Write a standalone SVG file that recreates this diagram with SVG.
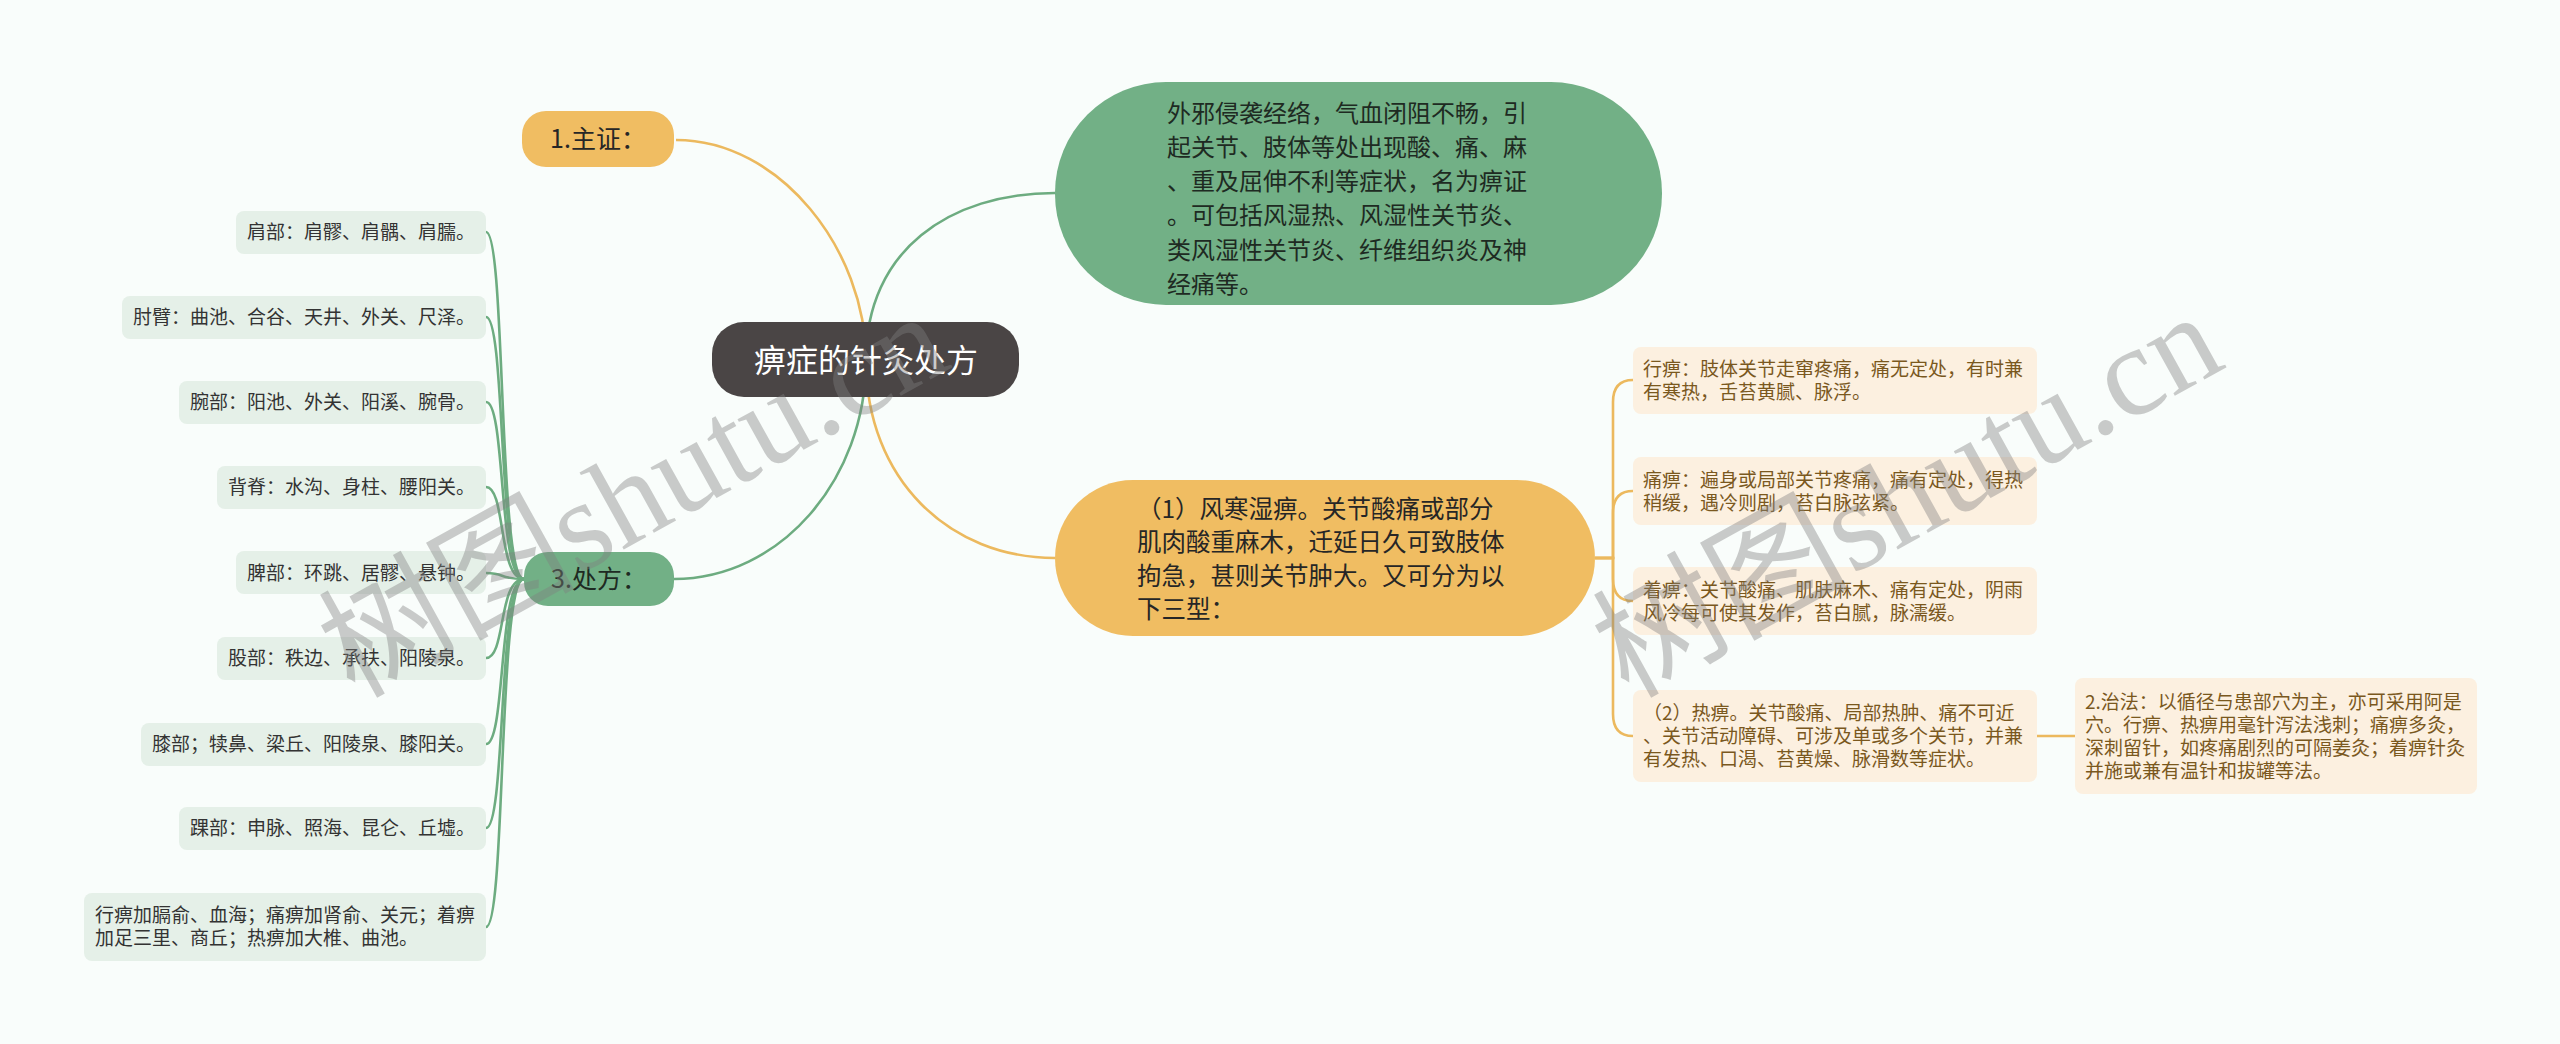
<svg xmlns="http://www.w3.org/2000/svg" width="2560" height="1044" viewBox="0 0 2560 1044">
<style>
.t{font-family:"Noto Sans CJK SC","Noto Sans",sans-serif}
.cg{fill:none;stroke:#6dac80;stroke-width:2.6}
.co{fill:none;stroke:#ecb95e;stroke-width:2.6}
.lf{fill:#e5f0e8}
.lt{font-size:19px;fill:#333}
.rf{fill:#fcf0e0}
.rt{font-size:19px;fill:#7a581e}
.wm{font-size:128px;fill:#808080;opacity:0.4}
</style>
<rect width="2560" height="1044" fill="#f9fdfb"/>
<g id="connectors">
<path class="co" d="M866,360 C866,250 780,140 676,140"/>
<path class="cg" d="M866,360 C866,250 950,193 1055,193"/>
<path class="co" d="M866,360 C866,480 950,558 1055,558"/>
<path class="cg" d="M866,360 C866,480 780,579 674,579"/>
<path class="cg" d="M524,579 C498,579 506,232 486,232"/>
<path class="cg" d="M524,579 C498,579 506,317 486,317"/>
<path class="cg" d="M524,579 C498,579 506,402 486,402"/>
<path class="cg" d="M524,579 C498,579 506,487 486,487"/>
<path class="cg" d="M524,579 C498,579 506,573 486,573"/>
<path class="cg" d="M524,579 C498,579 506,658 486,658"/>
<path class="cg" d="M524,579 C498,579 506,744 486,744"/>
<path class="cg" d="M524,579 C498,579 506,828 486,828"/>
<path class="cg" d="M524,579 C498,579 506,927 486,927"/>
<path class="co" d="M1595,558 H1613 V402 Q1613,380 1633,380"/>
<path class="co" d="M1595,558 H1613 V513 Q1613,491 1633,491"/>
<path class="co" d="M1595,558 H1613 V579 Q1613,601 1633,601"/>
<path class="co" d="M1595,558 H1613 V714 Q1613,736 1633,736"/>
<path class="co" d="M2037,736 H2075"/>
</g>
<g id="root">
<rect x="712" y="322" width="307" height="75" rx="32" fill="#4a4545"/>
<text class="t" x="866" y="372" font-size="32" fill="#fff" text-anchor="middle">痹症的针灸处方</text>
</g>
<g id="n-zhuzheng">
<rect x="522" y="111" width="152" height="56" rx="24" fill="#f0bd62"/>
<text class="t" x="598" y="148" font-size="25" fill="#262626" text-anchor="middle">1.主证：</text>
</g>
<g id="n-desc">
<rect x="1055" y="82" width="607" height="223" rx="111" fill="#72b086"/>
<text class="t" font-size="24" fill="#1e2a22">
<tspan x="1167" y="122">外邪侵袭经络，气血闭阻不畅，引</tspan>
<tspan x="1167" y="156">起关节、肢体等处出现酸、痛、麻</tspan>
<tspan x="1167" y="190">、重及屈伸不利等症状，名为痹证</tspan>
<tspan x="1167" y="224">。可包括风湿热、风湿性关节炎、</tspan>
<tspan x="1167" y="259">类风湿性关节炎、纤维组织炎及神</tspan>
<tspan x="1167" y="293">经痛等。</tspan>
</text>
</g>
<g id="n-type1">
<rect x="1055" y="480" width="540" height="156" rx="78" fill="#f0bd62"/>
<text class="t" font-size="24.5" fill="#262626">
<tspan x="1137" y="518">（1）风寒湿痹。关节酸痛或部分</tspan>
<tspan x="1137" y="551">肌肉酸重麻木，迁延日久可致肢体</tspan>
<tspan x="1137" y="585">拘急，甚则关节肿大。又可分为以</tspan>
<tspan x="1137" y="618">下三型：</tspan>
</text>
</g>
<g id="n-chufang">
<rect x="524" y="552" width="150" height="54" rx="24" fill="#72b086"/>
<text class="t" x="599" y="588" font-size="25" fill="#1e2a22" text-anchor="middle">3.处方：</text>
</g>
<g id="l1"><rect class="lf" x="236" y="211" width="250" height="43" rx="8"/><text class="t lt" x="247" y="239">肩部：肩髎、肩髃、肩臑。</text></g>
<g id="l2"><rect class="lf" x="122" y="296" width="364" height="43" rx="8"/><text class="t lt" x="133" y="324">肘臂：曲池、合谷、天井、外关、尺泽。</text></g>
<g id="l3"><rect class="lf" x="179" y="381" width="307" height="43" rx="8"/><text class="t lt" x="190" y="409">腕部：阳池、外关、阳溪、腕骨。</text></g>
<g id="l4"><rect class="lf" x="217" y="466" width="269" height="43" rx="8"/><text class="t lt" x="228" y="494">背脊：水沟、身柱、腰阳关。</text></g>
<g id="l5"><rect class="lf" x="236" y="551" width="250" height="43" rx="8"/><text class="t lt" x="247" y="580">脾部：环跳、居髎、悬钟。</text></g>
<g id="l6"><rect class="lf" x="217" y="637" width="269" height="43" rx="8"/><text class="t lt" x="228" y="665">股部：秩边、承扶、阳陵泉。</text></g>
<g id="l7"><rect class="lf" x="141" y="723" width="345" height="43" rx="8"/><text class="t lt" x="152" y="751">膝部；犊鼻、梁丘、阳陵泉、膝阳关。</text></g>
<g id="l8"><rect class="lf" x="179" y="807" width="307" height="43" rx="8"/><text class="t lt" x="190" y="835">踝部：申脉、照海、昆仑、丘墟。</text></g>
<g id="l9"><rect class="lf" x="84" y="893" width="402" height="68" rx="8"/><text class="t lt"><tspan x="95" y="922">行痹加膈俞、血海；痛痹加肾俞、关元；着痹</tspan><tspan x="95" y="945">加足三里、商丘；热痹加大椎、曲池。</tspan></text></g>
<g id="r1"><rect class="rf" x="1633" y="347" width="404" height="67" rx="8"/><text class="t rt"><tspan x="1643" y="376">行痹：肢体关节走窜疼痛，痛无定处，有时兼</tspan><tspan x="1643" y="399">有寒热，舌苔黄腻、脉浮。</tspan></text></g>
<g id="r2"><rect class="rf" x="1633" y="457" width="404" height="68" rx="8"/><text class="t rt"><tspan x="1643" y="487">痛痹：遍身或局部关节疼痛，痛有定处，得热</tspan><tspan x="1643" y="510">稍缓，遇冷则剧，苔白脉弦紧。</tspan></text></g>
<g id="r3"><rect class="rf" x="1633" y="567" width="404" height="68" rx="8"/><text class="t rt"><tspan x="1643" y="597">着痹：关节酸痛、肌肤麻木、痛有定处，阴雨</tspan><tspan x="1643" y="620">风冷每可使其发作，苔白腻，脉濡缓。</tspan></text></g>
<g id="r4"><rect class="rf" x="1633" y="690" width="404" height="92" rx="8"/><text class="t rt"><tspan x="1643" y="720">（2）热痹。关节酸痛、局部热肿、痛不可近</tspan><tspan x="1643" y="743">、关节活动障碍、可涉及单或多个关节，并兼</tspan><tspan x="1643" y="766">有发热、口渴、苔黄燥、脉滑数等症状。</tspan></text></g>
<g id="r5"><rect class="rf" x="2075" y="678" width="402" height="116" rx="8"/><text class="t rt"><tspan x="2085" y="709">2.治法：以循径与患部穴为主，亦可采用阿是</tspan><tspan x="2085" y="732">穴。行痹、热痹用毫针泻法浅刺；痛痹多灸，</tspan><tspan x="2085" y="755">深刺留针，如疼痛剧烈的可隔姜灸；着痹针灸</tspan><tspan x="2085" y="778">并施或兼有温针和拔罐等法。</tspan></text></g>
<g id="watermarks" font-family="'Liberation Serif', 'DejaVu Serif', 'Noto Sans CJK SC', serif">
<text class="wm" x="354" y="699" transform="rotate(-29 354 699)">树图shutu.cn</text>
<text class="wm" x="1628" y="699" transform="rotate(-29 1628 699)">树图shutu.cn</text>
</g>
</svg>
